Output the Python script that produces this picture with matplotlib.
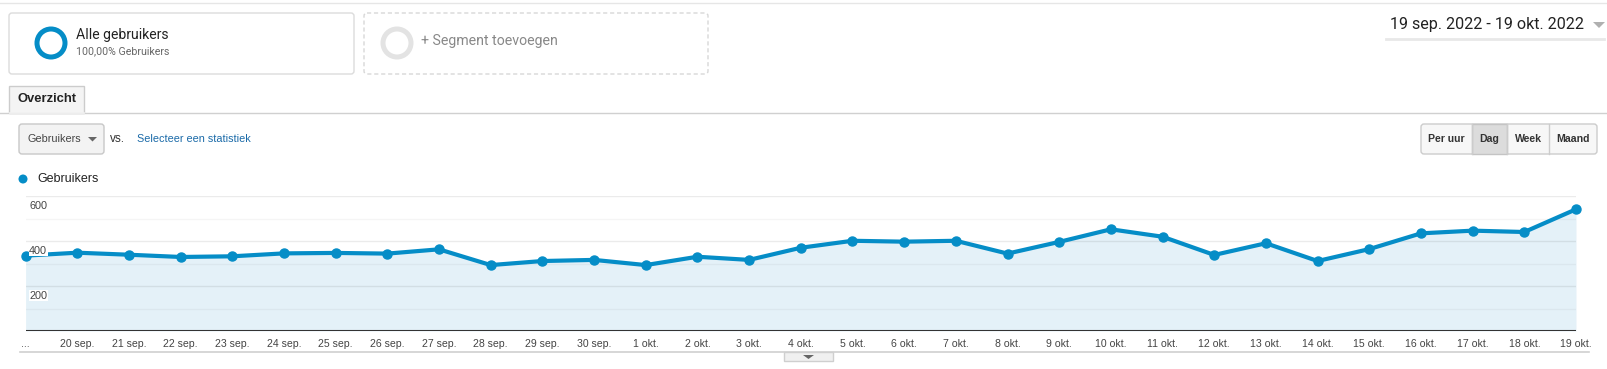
import matplotlib
matplotlib.use("Agg")
import matplotlib.pyplot as plt
from matplotlib.patches import FancyBboxPatch, Rectangle, Circle, Polygon

# data
dates = ["19 sep.", "20 sep.", "21 sep.", "22 sep.", "23 sep.", "24 sep.", "25 sep.",
         "26 sep.", "27 sep.", "28 sep.", "29 sep.", "30 sep.", "1 okt.", "2 okt.",
         "3 okt.", "4 okt.", "5 okt.", "6 okt.", "7 okt.", "8 okt.", "9 okt.", "10 okt.",
         "11 okt.", "12 okt.", "13 okt.", "14 okt.", "15 okt.", "16 okt.", "17 okt.",
         "18 okt.", "19 okt."]
users = [335, 348, 339, 329, 332, 345, 347, 344, 363, 293, 311, 316, 293, 330, 316,
         370, 401, 397, 401, 344, 396, 452, 419, 338, 390, 311, 364, 434, 446, 440, 541]
y_labels = [200, 400, 600]
buttons = ["Per uur", "Dag", "Week", "Maand"]

W, H = 1607, 369
BLUE = "#058dc7"
fig = plt.figure(figsize=(W / 100, H / 100), dpi=100)

# background axes in pixel coordinates for the UI bits
bg = fig.add_axes([0, 0, 1, 1])
bg.set_xlim(0, W)
bg.set_ylim(H, 0)
bg.axis("off")

bg.plot([0, W], [3, 3], color="#e6e6e6", lw=1)
bg.plot([0, W], [112.5, 112.5], color="#d0d0d0", lw=1)

# segment boxes
bg.add_patch(FancyBboxPatch((9, 13), 345, 61, boxstyle="round,pad=0,rounding_size=3",
                            fc="white", ec="#dcdcdc", lw=1))
bg.add_patch(Circle((51, 43), 14, fc="none", ec=BLUE, lw=3.6))
bg.text(76, 35, "Alle gebruikers", fontsize=10.1, family="Roboto", color="#222222", va="center")
bg.text(76, 51, "100,00% Gebruikers", fontsize=7.7, family="Roboto", color="#666666", va="center")

bg.add_patch(FancyBboxPatch((364, 13), 344, 61, boxstyle="round,pad=0,rounding_size=3",
                            fc="white", ec="#d8d8d8", lw=1, ls=(0, (3, 2))))
bg.add_patch(Circle((397, 43), 14, fc="none", ec="#e3e3e3", lw=3.6))
bg.text(421, 41, "+ Segment toevoegen", fontsize=10.2, family="Roboto", color="#888888", va="center")

# date range
bg.text(1390, 25, "19 sep. 2022 - 19 okt. 2022", fontsize=11.6, family="Roboto",
        color="#222222", va="center")
bg.add_patch(Polygon([[1593, 22], [1605, 22], [1599, 28]], fc="#b0b0b0", ec="none"))
bg.plot([1386, 1604], [39, 39], color="#e8e8e8", lw=2)

# tab
bg.add_patch(Rectangle((9, 86), 75, 27, fc="#f4f4f4", ec="#cccccc", lw=1))
bg.plot([9.5, 83.5], [112.5, 112.5], color="#f4f4f4", lw=1.2)
bg.text(18, 99.5, "Overzicht", fontsize=9.4, family="Liberation Sans", weight="bold",
        color="#222222", va="center")

# metric selector
bg.add_patch(FancyBboxPatch((19, 124), 85, 30, boxstyle="round,pad=0,rounding_size=3",
                            fc="#f3f3f3", ec="#c8c8c8", lw=1))
bg.text(27, 139, "Gebruikers", fontsize=7.8, family="Liberation Sans", color="#444444", va="center")
bg.add_patch(Polygon([[88, 137], [97, 137], [92.5, 141.5]], fc="#666666", ec="none"))
bg.text(110, 138.5, "vs.", fontsize=8.5, family="Liberation Sans", color="#333333", va="center")
bg.text(137, 139, "Selecteer een statistiek", fontsize=7.8, family="Liberation Sans",
        color="#1a6aa8", va="center")

# period buttons
edges = [1421, 1472, 1507, 1549, 1597]
bg.add_patch(FancyBboxPatch((1421, 124), 176, 30, boxstyle="round,pad=0,rounding_size=3",
                            fc="#f7f7f7", ec="#cccccc", lw=1))
bg.add_patch(Rectangle((1472, 124), 35, 30, fc="#dcdcdc", ec="#c4c4c4", lw=1))
for i, b in enumerate(buttons):
    if 0 < i:
        bg.plot([edges[i], edges[i]], [124, 154], color="#cccccc", lw=1)
    bg.text((edges[i] + edges[i + 1]) / 2, 139, b, fontsize=7.6, family="Liberation Sans",
            weight="bold", color="#333333", ha="center", va="center")

# legend
bg.add_patch(Circle((23, 179), 4.5, fc=BLUE, ec="none"))
bg.text(37, 179.5, "Gebruikers", fontsize=9, family="Liberation Sans", color="#222222", va="center")

# bottom rule and the little expander tab
bg.plot([20, 1589], [352, 352], color="#d0d0d0", lw=1.2)
bg.add_patch(Rectangle((784, 352), 49, 9, fc="#f0f0f0", ec="#cfcfcf", lw=1))
bg.add_patch(Polygon([[803, 355], [814, 355], [808.5, 359]], fc="#666666", ec="none"))

# chart
x0, x1, yb, yt = 25.6, 1576, 331, 196
ax = fig.add_axes([x0 / W, 1 - yb / H, (x1 - x0) / W, (yb - yt) / H])
ax.patch.set_visible(False)
xs = list(range(len(users)))
ax.fill_between(xs, users, 0, color="#e4f1f8", zorder=1, lw=0)
for v in [100, 300, 500]:
    ax.axhline(v, color="#000000", alpha=0.04, lw=1, zorder=2)
for v in [200, 400, 600]:
    ax.axhline(v, color="#000000", alpha=0.08, lw=1, zorder=2)
ax.axhline(0, color="#333333", lw=1.5, zorder=3)
ax.plot(xs, users, color=BLUE, lw=3, marker="o", ms=6.5, zorder=4, clip_on=False)
for v in y_labels:
    ax.annotate(str(v), (0.07, v), xytext=(0, -3.5), textcoords="offset points",
                fontsize=7.8, family="Liberation Sans", color="#444444", va="top", ha="left",
                bbox=dict(fc="white", ec="none", pad=0.3), zorder=5)
ax.set_xlim(0, len(users) - 1)
ax.set_ylim(0, 600)
ax.set_yticks([])
ax.set_xticks(xs)
ax.set_xticklabels(["..."] + dates[1:], fontsize=7.6, family="Liberation Sans", color="#444444")
ax.tick_params(axis="x", length=0, pad=6)
for s in ax.spines.values():
    s.set_visible(False)

fig.savefig("out.png", dpi=100)
